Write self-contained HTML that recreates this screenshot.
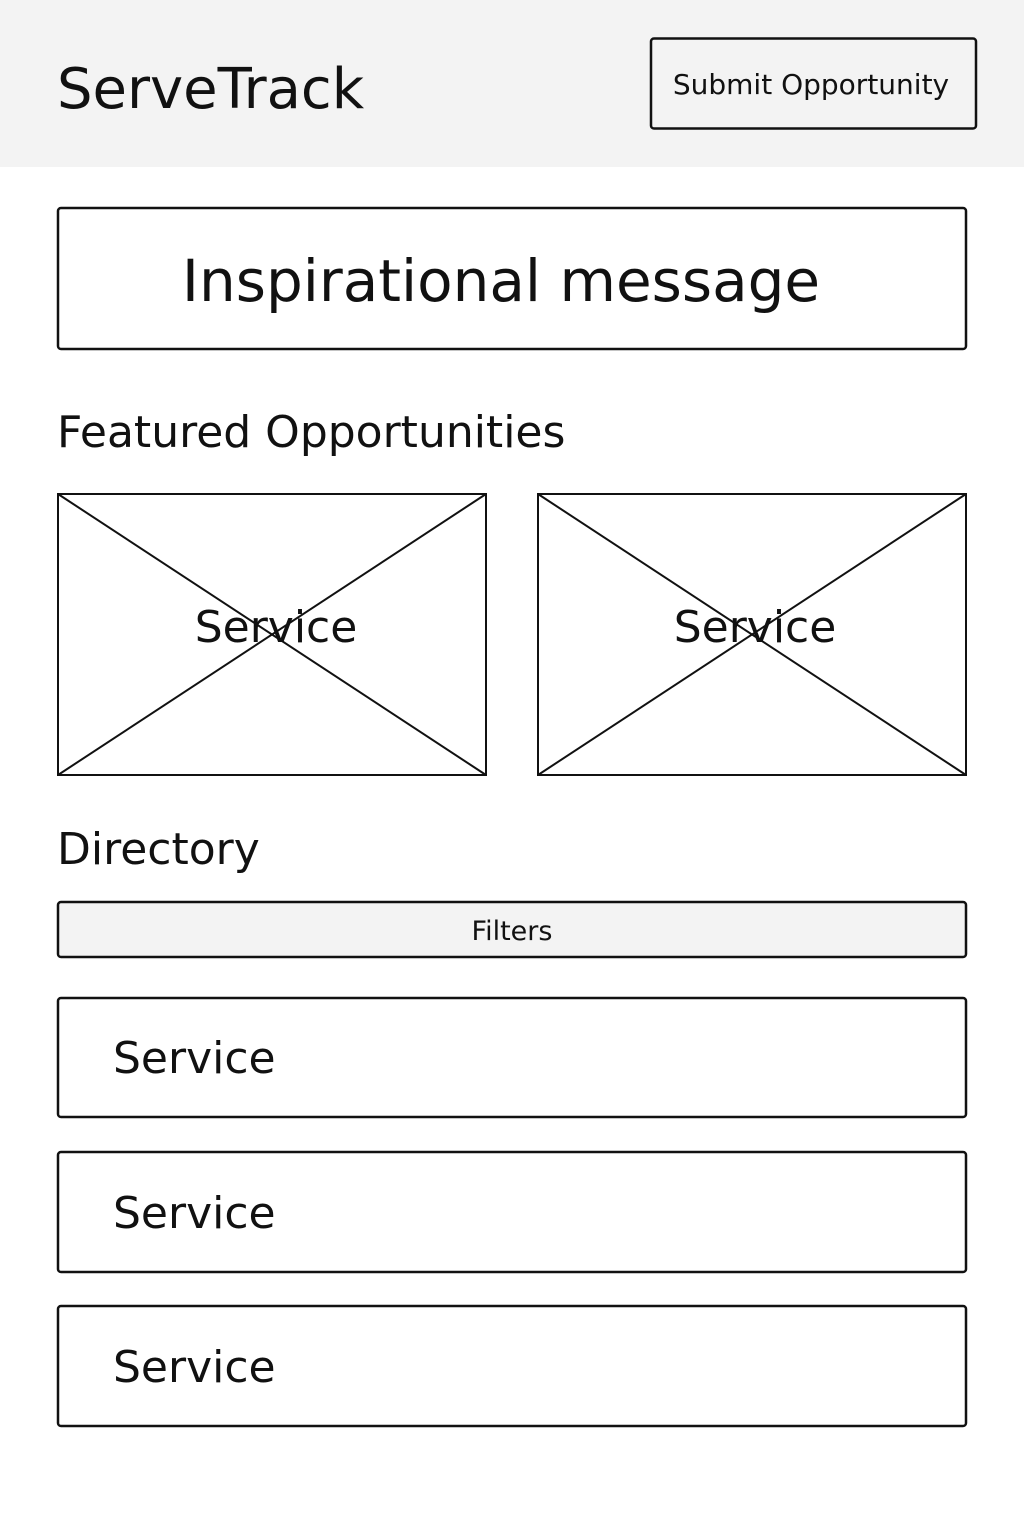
<!DOCTYPE html>
<html><head><meta charset="utf-8"><style>
html,body{margin:0;padding:0;background:#fff;}
svg{display:block;}
text{font-family:"DejaVu Sans","Liberation Sans",sans-serif;fill:#111;}
</style></head><body>
<svg width="1024" height="1536" viewBox="0 0 1024 1536" xmlns="http://www.w3.org/2000/svg">
<rect x="0" y="0" width="1024" height="167" fill="#f3f3f3"/>
<text x="57" y="108" font-size="56">ServeTrack</text>
<rect x="651" y="38.5" width="325" height="90" rx="3" fill="#f3f3f3" stroke="#111" stroke-width="2.5"/>
<text x="811" y="94" font-size="28" text-anchor="middle">Submit Opportunity</text>

<rect x="58" y="208" width="908" height="141" rx="3" fill="#fff" stroke="#111" stroke-width="2.5"/>
<text x="501" y="301" font-size="58" text-anchor="middle">Inspirational message</text>

<text x="57" y="447" font-size="44">Featured Opportunities</text>

<g stroke="#111" stroke-width="2" fill="none">
<rect x="58" y="494" width="428" height="281"/>
<line x1="58" y1="494" x2="486" y2="775"/><line x1="486" y1="494" x2="58" y2="775"/>
<rect x="538" y="494" width="428" height="281"/>
<line x1="538" y1="494" x2="966" y2="775"/><line x1="966" y1="494" x2="538" y2="775"/>
</g>
<text x="276" y="642" font-size="44" text-anchor="middle">Service</text>
<text x="755" y="642" font-size="44" text-anchor="middle">Service</text>

<text x="57" y="864" font-size="44">Directory</text>

<rect x="58" y="902" width="908" height="55" rx="3" fill="#f3f3f3" stroke="#111" stroke-width="2.5"/>
<text x="512" y="940" font-size="27" text-anchor="middle">Filters</text>

<g fill="#fff" stroke="#111" stroke-width="2.5">
<rect x="58" y="998" width="908" height="119" rx="3"/>
<rect x="58" y="1152" width="908" height="120" rx="3"/>
<rect x="58" y="1306" width="908" height="120" rx="3"/>
</g>
<text x="113" y="1073" font-size="44">Service</text>
<text x="113" y="1228" font-size="44">Service</text>
<text x="113" y="1382" font-size="44">Service</text>
</svg>
</body></html>
